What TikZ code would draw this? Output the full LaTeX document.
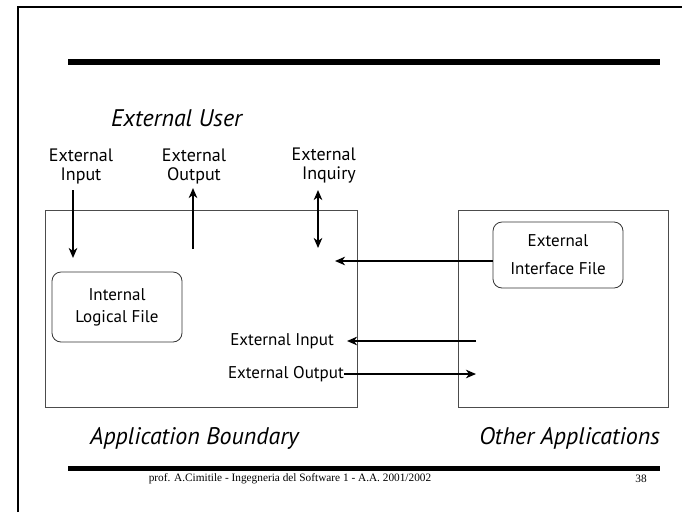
\documentclass[tikz,border=0pt]{standalone}
\usepackage{fontspec}
\setmainfont{PT Sans}
\newfontfamily\footfont{Liberation Serif}
\usetikzlibrary{arrows.meta,positioning}
\tikzset{
  >={Stealth[length = 10pt, width = 8.5pt, inset = 3pt]},
  lbl/.style = {font = \fontsize{18}{19}\selectfont, align = center, inner sep = 0pt},
  ttl/.style = {font = \fontsize{24}{26}\selectfont\itshape, inner sep = 0pt},
  flow/.style = {line width = 1.9pt, ->},
  appbox/.style = {draw = black!70, line width = 0.8pt},
  filebox/.style = {draw = black!80, line width = 0.8pt, rounded corners = 9pt, align = center,
                    font = \fontsize{17}{22}\selectfont},
}
\begin{document}
\begin{tikzpicture}[x = 1pt, y = -1pt]
        \useasboundingbox (0,0) rectangle (682,512);
        % page frame and rules
        \draw [line width = 2pt] (18,512) -- (18,7) -- (682,7);
        \fill (68,59) rectangle (660,65);
        \fill (68,466) rectangle (660,471);
        % application boxes
        \draw [appbox] (45,210) rectangle (357,407);
        \draw [appbox] (458,210) rectangle (668,407);
        \node [ttl, anchor = west] (user) at (111,118) {External User};
        \node [ttl, anchor = west] (bound) at (90,438) {Application Boundary};
        \node [ttl, anchor = east] (other) at (660,438) {Other Applications};
        % labels above the boundary
        \node [lbl] (ei) at (81,166) {External\\Input};
        \node [lbl] (eo) at (194,166) {External\\Output};
        \node [lbl, align = right, anchor = east] (eq) at (356,166) {External\\Inquiry};
        \coordinate (eitip) at (73,258);
        \coordinate (eofoot) at (193,249);
        \coordinate (eqfoot) at (318,248);
        \draw [flow] (73,190) -- (eitip);
        \draw [flow] (eofoot) -- (193,188);
        \draw [flow, <->] (eqfoot) -- (318,190);
        % files
        \node [filebox, minimum width = 130pt, minimum height = 70pt] (ilf) at (117,307) {Internal\\Logical File};
        \node [filebox, minimum width = 130pt, minimum height = 66pt,
               font = \fontsize{17}{28}\selectfont] (eif) at (558,255) {External\\Interface File};
        \coordinate (eifin) at (335,261);
        \draw [flow] (eif.west |- eifin) -- (eifin);
        % flows between applications
        \node [lbl, font = \fontsize{17}{19}\selectfont, anchor = east] (xin) at (334,341) {External Input};
        \node [lbl, font = \fontsize{17}{19}\selectfont, anchor = east] (xout) at (344,374) {External Output};
        \coordinate (xinfrom) at (476,341);
        \coordinate (xoutto) at (476,374);
        \draw [flow] (xinfrom) -- ([xshift = 13pt]xin.east);
        \draw [flow] (xout.east) -- (xoutto);
        % footer
        \node [font = \footfont\fontsize{11.3}{12}\selectfont, inner sep = 0pt] (foot) at (290,479)
            {prof. A.Cimitile - Ingegneria del Software 1 - A.A. 2001/2002};
        \node [font = \footfont\fontsize{11.3}{12}\selectfont, inner sep = 0pt] (page) at (641,479) {38};
\end{tikzpicture}
\end{document}
